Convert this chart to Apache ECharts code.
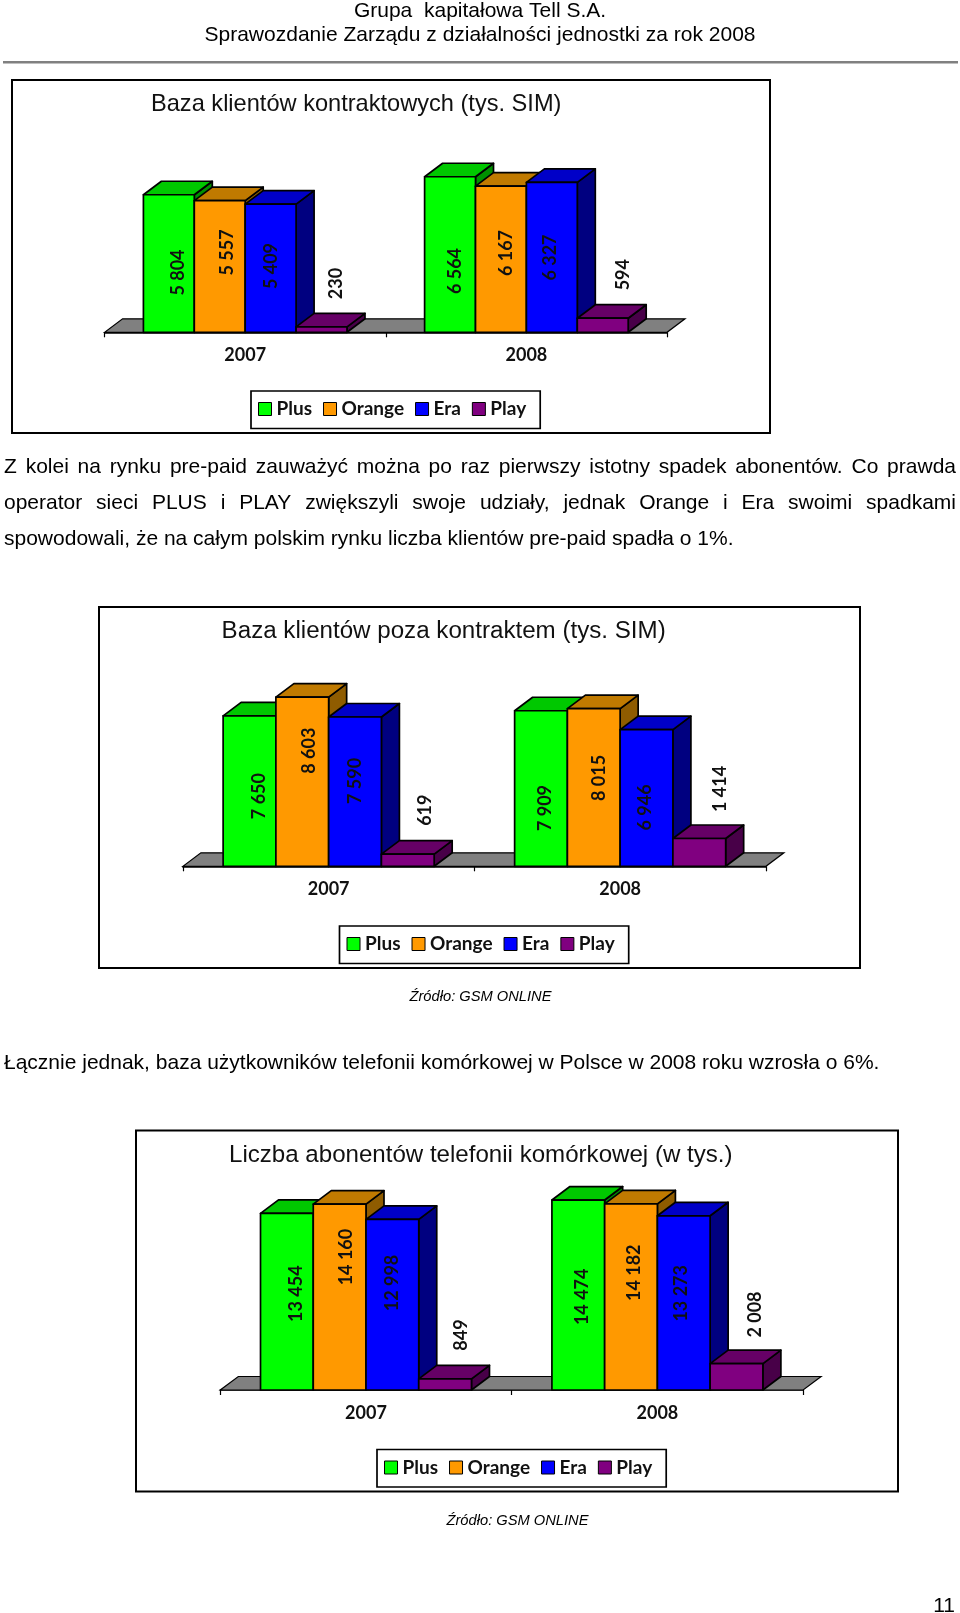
<!DOCTYPE html>
<html><head><meta charset="utf-8">
<style>html,body{margin:0;padding:0;background:#fff}#c{width:960px;height:1613px}</style>
<script src="https://cdn.jsdelivr.net/npm/echarts@6/dist/echarts.min.js"></script>
</head><body><div id="c"></div>
<script>
const categories = ['2007', '2008'];
const operators = ['Plus', 'Orange', 'Era', 'Play'];

const contractPlus = [5804, 6564];
const contractOrange = [5557, 6167];
const contractEra = [5409, 6327];
const contractPlay = [230, 594];

const prepaidPlus = [7650, 7909];
const prepaidOrange = [8603, 8015];
const prepaidEra = [7590, 6946];
const prepaidPlay = [619, 1414];

const totalPlus = [13454, 14474];
const totalOrange = [14160, 14182];
const totalEra = [12998, 13273];
const totalPlay = [849, 2008];

const headerLine1 = 'Grupa  kapitałowa Tell S.A.';
const headerLine2 = 'Sprawozdanie Zarządu z działalności jednostki za rok 2008';
const paragraphJustified = [
  'Z kolei na rynku pre-paid zauważyć można po raz pierwszy istotny spadek abonentów. Co prawda',
  'operator sieci PLUS i PLAY zwiększyli swoje udziały, jednak Orange i Era swoimi spadkami'
];
const paragraphPlain = [
  'spowodowali, że na całym polskim rynku liczba klientów pre-paid spadła o 1%.',
  'Łącznie jednak, baza użytkowników telefonii komórkowej w Polsce w 2008 roku wzrosła o 6%.'
];
const sourceNote = 'Źródło: GSM ONLINE';
const pageNumber = '11';

// Layout and style (separate from the data above)
const BODY = '"Liberation Sans", Arial, sans-serif';
const LABEL = 'Lato, sans-serif';
const faces = [
  { front: '#00FF00', top: '#00C800', side: '#009000' },
  { front: '#FF9900', top: '#C07A00', side: '#8F5C00' },
  { front: '#0000FF', top: '#0000C8', side: '#000080' },
  { front: '#800080', top: '#660066', side: '#480048' }
];
const DEPTH_X = 18, DEPTH_Y = 13.5, GAP = 0.276;

const charts = [
  { title: 'Baza klientów kontraktowych (tys. SIM)', titleX: 151, titleTop: 92.5, titleSize: 23.6, labelDX: 2,
    frame: [12, 80, 758, 353], left: 104.6, width: 562.4, axisY: 332.3, plotH: 189.6, max: 8000,
    legendX: 251, legendY: 391,
    values: [contractPlus, contractOrange, contractEra, contractPlay],
    shifts: [[[7.3, 9], [3, 16.5]], [[5.3, -14], [3, -6.2]], [[-1.3, -2.2], [-3.8, 0.2]], [[13, -46], [18, -50.6]]] },
  { title: 'Baza klientów poza kontraktem (tys. SIM)', titleX: 221.6, titleTop: 619.5, titleSize: 24.15, labelDX: 1,
    frame: [99, 607, 761, 361], left: 182.9, width: 583, axisY: 866.3, plotH: 196.7, max: 10000,
    legendX: 339.5, legendY: 926,
    values: [prepaidPlus, prepaidOrange, prepaidEra, prepaidPlay],
    shifts: [[[8.9, 5], [3, 19.5]], [[6.2, -31], [4, -9.5]], [[-0.6, -10.7], [-2.8, 9.5]], [[16.4, -50], [19.5, -63.4]]] },
  { title: 'Liczba abonentów telefonii komórkowej (w tys.)', titleX: 229, titleTop: 1143.5, titleSize: 24.1, labelDX: 0.5,
    frame: [136, 1130.5, 762, 361], left: 220.3, width: 582.8, axisY: 1390, plotH: 210, max: 16000,
    legendX: 377, legendY: 1449.5,
    values: [totalPlus, totalOrange, totalEra, totalPlay],
    shifts: [[[9, -8], [3.2, 1.8]], [[6.2, -40], [3, -24.2]], [[-1, -21.7], [-2.6, -9.6]], [[15.6, -49.4], [18.6, -62.3]]] }
];

const fmt = v => String(v).replace(/\B(?=(\d{3})+$)/g, ' ');

function floorRender(params) {
  const c = params.coordSys, b = c.y + c.height, r = c.x + c.width;
  return { type: 'polygon',
    shape: { points: [[c.x, b], [r, b], [r + DEPTH_X, b - DEPTH_Y], [c.x + DEPTH_X, b - DEPTH_Y]] },
    style: { fill: '#808080', stroke: '#000', lineWidth: 1.2 } };
}

function barRender(op, shifts, labelDX) {
  return function (params, api) {
    const cat = api.value(0), val = api.value(1);
    const base = api.coord([cat, 0]), top = api.coord([cat, val]);
    const bw = api.size([1, 0])[0] * (1 - GAP) / 4;
    const x0 = base[0] - 2 * bw + op * bw, x1 = x0 + bw, yb = base[1], yt = top[1];
    const edge = { stroke: '#000', lineWidth: 1.7, lineJoin: 'round' };
    const f = faces[op], s = shifts[cat];
    return { type: 'group', children: [
      { type: 'polygon', shape: { points: [[x1, yb], [x1 + DEPTH_X, yb - DEPTH_Y], [x1 + DEPTH_X, yt - DEPTH_Y], [x1, yt]] },
        style: Object.assign({ fill: f.side }, edge) },
      { type: 'polygon', shape: { points: [[x0, yt], [x1, yt], [x1 + DEPTH_X, yt - DEPTH_Y], [x0 + DEPTH_X, yt - DEPTH_Y]] },
        style: Object.assign({ fill: f.top }, edge) },
      { type: 'rect', shape: { x: x0, y: yt, width: bw, height: yb - yt },
        style: Object.assign({ fill: f.front }, edge) },
      { type: 'text', x: x0 + bw / 2 + s[0] + labelDX, y: (yt + yb) / 2 + s[1], rotation: Math.PI / 2, z2: 10,
        style: { text: fmt(val), font: 'bold 18px ' + LABEL, fill: '#111', align: 'center', verticalAlign: 'middle' } }
    ] };
  };
}

const grid = [], xAxis = [], yAxis = [], series = [], title = [], legend = [], elements = [];

function word(text, x, y, font, extra) {
  return { type: 'text', x: x, y: y, z: 5,
    style: Object.assign({ text: text, font: font, fill: '#000', align: 'left', verticalAlign: 'middle' }, extra || {}) };
}

charts.forEach((ch, i) => {
  elements.push({ type: 'rect', z: 0, shape: { x: ch.frame[0], y: ch.frame[1], width: ch.frame[2], height: ch.frame[3] },
    style: { fill: '#fff', stroke: '#000', lineWidth: 2 } });
  grid.push({ left: ch.left, width: ch.width, top: ch.axisY - ch.plotH, height: ch.plotH, containLabel: false });
  xAxis.push({ type: 'category', gridIndex: i, data: categories,
    axisLine: { lineStyle: { color: '#000', width: 1.5 } },
    axisTick: { show: true, alignWithLabel: false, length: 5, lineStyle: { color: '#000', width: 1.2 } },
    axisLabel: { margin: 14, color: '#111', fontFamily: LABEL, fontWeight: 'bold', fontSize: 18 } });
  yAxis.push({ type: 'value', gridIndex: i, min: 0, max: ch.max, show: false, splitLine: { show: false } });
  title.push({ text: ch.title, left: ch.titleX, top: ch.titleTop, padding: 0,
    textStyle: { fontFamily: BODY, fontWeight: 'normal', fontSize: ch.titleSize, color: '#111' } });
  legend.push({ left: ch.legendX, top: ch.legendY, orient: 'horizontal', data: operators, icon: 'rect',
    selectedMode: false, backgroundColor: '#fff', borderColor: '#000', borderWidth: 1.7,
    padding: [8.5, 14, 10, 7], itemWidth: 13, itemHeight: 13, itemGap: 11,
    itemStyle: { borderColor: '#000', borderWidth: 1 },
    textStyle: { fontFamily: LABEL, fontWeight: 'bold', fontSize: 19, color: '#111' } });
  series.push({ type: 'custom', name: 'floor' + i, xAxisIndex: i, yAxisIndex: i, silent: true, clip: false,
    renderItem: floorRender, data: [[0, 0]], encode: { x: 0, y: 1 } });
  operators.forEach((name, op) => {
    series.push({ type: 'custom', name: name, xAxisIndex: i, yAxisIndex: i, clip: false,
      itemStyle: { color: faces[op].front },
      renderItem: barRender(op, ch.shifts[op], ch.labelDX),
      encode: { x: 0, y: 1 },
      data: ch.values[op].map((v, k) => [k, v]) });
  });
});

// page text
elements.push({ type: 'rect', z: 0, shape: { x: 3, y: 61, width: 955, height: 2.5 }, style: { fill: '#808080' } });
const centered = { align: 'center' };
elements.push(word(headerLine1, 480, 11, '21px ' + BODY, centered));
elements.push(word(headerLine2, 480, 35.5, '21px ' + BODY, centered));
elements.push(word(sourceNote, 480.5, 997, 'italic 14.7px ' + BODY, centered));
elements.push(word(sourceNote, 517.5, 1520.5, 'italic 14.7px ' + BODY, centered));
elements.push(word(pageNumber, 955, 1606, '21px ' + BODY, { align: 'right' }));

const BODY_FONT = '21px ' + BODY;
const meas = document.createElement('canvas').getContext('2d');
meas.font = BODY_FONT;
function justified(line, y, x0, x1) {
  const parts = line.split(' ');
  const widths = parts.map(p => meas.measureText(p).width);
  const total = widths.reduce((a, b) => a + b, 0);
  const gap = (x1 - x0 - total) / (parts.length - 1);
  let x = x0;
  parts.forEach((p, k) => { elements.push(word(p, x, y, BODY_FONT)); x += widths[k] + gap; });
}
justified(paragraphJustified[0], 467, 4, 956);
justified(paragraphJustified[1], 503, 4, 956);
elements.push(word(paragraphPlain[0], 4, 539.5, BODY_FONT));
elements.push(word(paragraphPlain[1], 4, 1063, BODY_FONT));

const chart = echarts.init(document.getElementById('c'));
chart.setOption({
  animation: false, backgroundColor: '#fff',
  graphic: { elements: elements },
  title: title, legend: legend, grid: grid, xAxis: xAxis, yAxis: yAxis, series: series
});
</script></body></html>
